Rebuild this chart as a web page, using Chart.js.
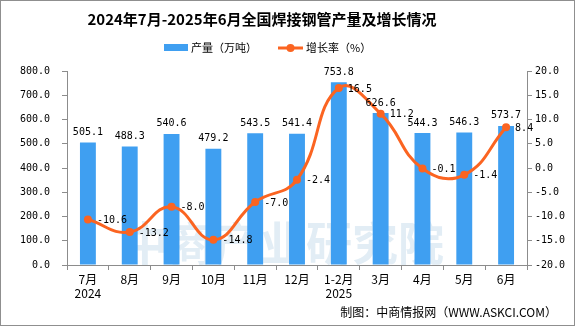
<!DOCTYPE html>
<html>
<head>
<meta charset="utf-8">
<script src="https://cdn.jsdelivr.net/npm/chart.js@4/dist/chart.umd.min.js"></script>
<style>
  html, body { margin: 0; padding: 0; background: #fff; }
  #wrap { width: 575px; height: 326px; position: relative; }
</style>
</head>
<body>
<div id="wrap"><canvas id="c" width="575" height="326"></canvas></div>
<script>
// data
var months = ['7月', '8月', '9月', '10月', '11月', '12月', '1-2月', '3月', '4月', '5月', '6月'];
var years = ['2024', '', '', '', '', '', '2025', '', '', '', ''];
var output = [505.1, 488.3, 540.6, 479.2, 543.5, 541.4, 753.8, 626.6, 544.3, 546.3, 573.7];
var growth = [-10.6, -13.2, -8.0, -14.8, -7.0, -2.4, 16.5, 11.2, -0.1, -1.4, 8.4];
var leftTicks = [0, 100, 200, 300, 400, 500, 600, 700, 800];
var rightTicks = [-20, -15, -10, -5, 0, 5, 10, 15, 20];

var BLUE = '#3f9ff1';
var ORANGE = '#fb6421';
var AXIS = '#8c8c8c';
var MONO = "'DejaVu Sans Mono', monospace";
var NUM_FONT = "10px " + MONO;
var CJK = "'Noto Sans CJK SC', sans-serif";

var labels = months.map(function(m, i) {
  return years[i] ? [m, years[i]] : m;
});

var decor = {
  id: 'decor',
  beforeDatasetsDraw: function(chart) {
    var ctx = chart.ctx;
    ctx.save();
    // watermark text
    ctx.globalAlpha = 0.2;
    ctx.fillStyle = '#6fa6cf';
    ctx.font = "bold 46px " + CJK;
    ctx.textAlign = 'left';
    ctx.textBaseline = 'middle';
    ctx.fillText('中商产业研究院', 122, 243);
    ctx.restore();
  },
  afterDraw: function(chart) {
    var ctx = chart.ctx;
    ctx.save();

    // value labels on bars
    var bars = chart.getDatasetMeta(1).data;
    ctx.fillStyle = '#000';
    ctx.font = NUM_FONT;
    ctx.textAlign = 'center';
    ctx.textBaseline = 'bottom';
    bars.forEach(function(b, i) {
      ctx.fillText(output[i].toFixed(1), b.x, b.y - 5);
    });

    // value labels on line
    var pts = chart.getDatasetMeta(0).data;
    ctx.textAlign = 'left';
    ctx.textBaseline = 'middle';
    pts.forEach(function(p, i) {
      ctx.fillText(growth[i].toFixed(1), p.x + 9, p.y + 1);
    });

    // title
    ctx.font = "bold 15px " + CJK;
    ctx.textAlign = 'center';
    ctx.fillText('2024年7月-2025年6月全国焊接钢管产量及增长情况', 262, 19);

    // legend
    ctx.font = "11px " + CJK;
    ctx.textAlign = 'left';
    ctx.fillStyle = BLUE;
    ctx.fillRect(164, 44, 24, 7);
    ctx.fillStyle = '#000';
    ctx.fillText('产量（万吨）', 191, 48);
    ctx.strokeStyle = ORANGE;
    ctx.lineWidth = 3;
    ctx.beginPath();
    ctx.moveTo(278, 48);
    ctx.lineTo(303, 48);
    ctx.stroke();
    ctx.fillStyle = ORANGE;
    ctx.beginPath();
    ctx.arc(290.5, 48, 4, 0, Math.PI * 2);
    ctx.fill();
    ctx.fillStyle = '#000';
    ctx.fillText('增长率（%）', 306, 48);

    // source
    ctx.font = "12px " + CJK;
    ctx.textAlign = 'right';
    ctx.fillText('制图：中商情报网（WWW.ASKCI.COM）', 557, 312);

    // frame
    ctx.strokeStyle = '#8f8f8f';
    ctx.lineWidth = 1;
    ctx.strokeRect(0.5, 0.5, 574, 325);
    ctx.restore();
  }
};

new Chart(document.getElementById('c'), {
  data: {
    labels: labels,
    datasets: [
      {
        type: 'line',
        label: '增长率（%）',
        data: growth,
        yAxisID: 'y2',
        borderColor: ORANGE,
        backgroundColor: ORANGE,
        borderWidth: 3,
        pointRadius: 4,
        pointBackgroundColor: ORANGE,
        pointBorderWidth: 0,
        tension: 0.45,
        order: 0
      },
      {
        type: 'bar',
        label: '产量（万吨）',
        data: output,
        yAxisID: 'y',
        backgroundColor: BLUE,
        barPercentage: 0.38,
        categoryPercentage: 1,
        order: 1
      }
    ]
  },
  options: {
    responsive: false,
    animation: false,
    layout: { padding: { top: 71, left: 0, right: 0, bottom: 0 } },
    plugins: {
      legend: { display: false },
      title: { display: false },
      tooltip: { enabled: false }
    },
    scales: {
      x: {
        offset: true,
        grid: { offset: true, drawOnChartArea: false, color: AXIS, tickLength: 5 },
        border: { color: AXIS },
        ticks: { color: '#000', font: { family: CJK, size: 12 }, padding: 2, maxRotation: 0, autoSkip: false },
        afterFit: function(s) { s.height = 61; }
      },
      y: {
        position: 'left',
        min: 0,
        max: 800,
        afterBuildTicks: function(s) { s.ticks = leftTicks.map(function(v) { return { value: v }; }); },
        grid: { drawOnChartArea: false, color: AXIS, tickLength: 5 },
        border: { color: AXIS },
        ticks: {
          color: '#000',
          font: { family: MONO, size: 10 },
          padding: 12,
          callback: function(v) { return v.toFixed(1); }
        },
        afterFit: function(s) { s.width = 67; }
      },
      y2: {
        position: 'right',
        min: -20,
        max: 20,
        afterBuildTicks: function(s) { s.ticks = rightTicks.map(function(v) { return { value: v }; }); },
        grid: { drawOnChartArea: false, color: AXIS, tickLength: 5 },
        border: { color: AXIS },
        ticks: {
          color: '#000',
          font: { family: MONO, size: 10 },
          padding: 3,
          callback: function(v) { return v.toFixed(1); }
        },
        afterFit: function(s) { s.width = 48; }
      }
    }
  },
  plugins: [decor]
});
</script>
</body>
</html>
